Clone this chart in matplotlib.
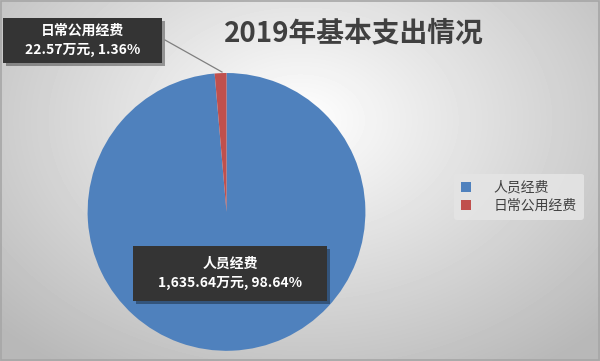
import numpy as np
import matplotlib
matplotlib.use("Agg")
import matplotlib.pyplot as plt
from matplotlib.patches import Rectangle

plt.rcParams['font.family'] = ['Noto Sans CJK SC', 'DejaVu Sans']

categories = ["人员经费", "日常公用经费"]
values = [1635.64, 22.57]
percents = [98.64, 1.36]
colors = ["#4F81BD", "#C0504D"]
title = "2019年基本支出情况"

W, H = 600, 361
fig = plt.figure(figsize=(W / 100, H / 100), dpi=100)

# radial grey background
bg = fig.add_axes([0, 0, 1, 1])
yy, xx = np.mgrid[0:H, 0:W]
d = np.sqrt(((xx - 300) / 420.0) ** 2 + ((yy - 120) / 300.0) ** 2)
shade = np.clip(1.0 - 0.28 * d, 0.72, 1.0)
bg.imshow(shade, cmap="gray", vmin=0, vmax=1, extent=[0, W, H, 0], aspect="auto")
bg.add_patch(Rectangle((0.5, 0.5), W - 2, H - 2, fill=False, ec="#a6a6a6", lw=1.2))
bg.set_xlim(0, W); bg.set_ylim(H, 0)
bg.axis("off")

ax = fig.add_axes([0.146, 0.028, 0.463, 0.770])
wedges, _ = ax.pie(values, colors=colors, startangle=90, counterclock=False,
                   wedgeprops=dict(linewidth=0))
ax.set_xlim(-1, 1); ax.set_ylim(-1, 1)
ax.set_aspect("equal")

# overlay for labels, on top of the pie
ov = fig.add_axes([0, 0, 1, 1])
ov.set_xlim(0, W); ov.set_ylim(H, 0)
ov.axis("off")
ov.patch.set_alpha(0)

ov.text(354, 33, title, ha="center", va="center", fontsize=20,
        fontweight="bold", color="#404040")

labels = [f"{c}\n{v:,.2f}万元, {p:.2f}%" for c, v, p in zip(categories, values, percents)]
# data label boxes (pixel coords, y from top)
boxes = [(133, 246, 194, 55), (3, 18, 159, 45)]
for (x0, y0, bw, bh), lab in zip(boxes, labels):
    ov.add_patch(Rectangle((x0 + 3, y0 + 3), bw, bh, fc="#000000", alpha=0.35, ec="none"))
    ov.add_patch(Rectangle((x0, y0), bw, bh, fc="#343434", ec="none"))
    ov.text(x0 + bw / 2, y0 + bh / 2, lab, ha="center", va="center", fontsize=10,
            fontweight="bold", color="white", linespacing=1.45)

# leader line to the small slice
ov.plot([165, 222], [40, 72], color="#7f7f7f", lw=0.9)

leg = fig.legend(wedges, categories, loc="center", bbox_to_anchor=(0.865, 0.455),
                 frameon=True, fontsize=10, handlelength=0.7, handleheight=0.7,
                 handletextpad=1.6, borderpad=0.5, labelspacing=0.3)
leg.get_frame().set_facecolor("#e4e4e4")
leg.get_frame().set_edgecolor("none")
leg.get_frame().set_alpha(0.9)
for t in leg.get_texts():
    t.set_color("#404040")

fig.savefig("out.png", dpi=100)
